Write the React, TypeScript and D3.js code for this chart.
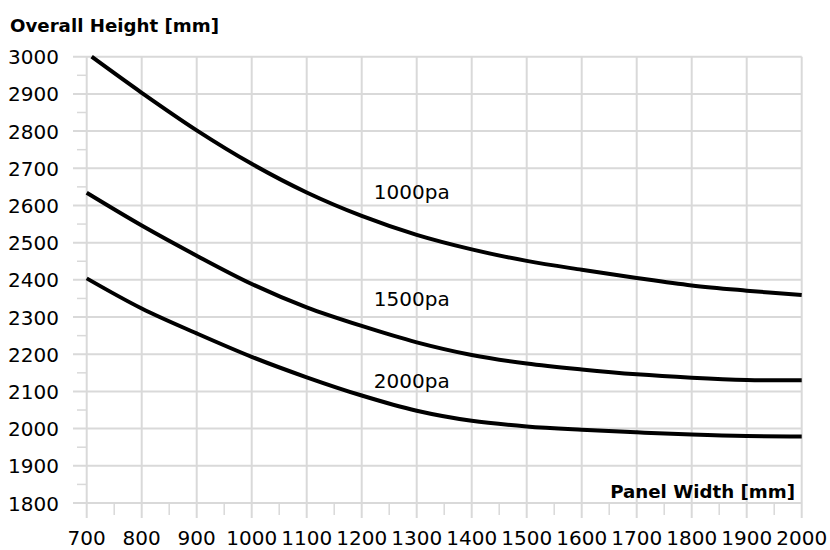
import React from "react";
import * as d3 from "d3";

const xTicks = [700, 800, 900, 1000, 1100, 1200, 1300, 1400, 1500, 1600, 1700, 1800, 1900, 2000];
const yTicks = [1800, 1900, 2000, 2100, 2200, 2300, 2400, 2500, 2600, 2700, 2800, 2900, 3000];

const x1000 = [709, 800, 900, 1000, 1100, 1200, 1300, 1400, 1500, 1600, 1700, 1800, 1900, 2000];
const y1000 = [3000, 2903, 2802, 2712, 2635, 2572, 2521, 2482, 2451, 2427, 2405, 2385, 2371, 2359];
const x1500 = [700, 800, 900, 1000, 1100, 1200, 1300, 1400, 1500, 1600, 1700, 1800, 1900, 2000];
const y1500 = [2634, 2546, 2465, 2389, 2326, 2276, 2232, 2198, 2175, 2159, 2146, 2137, 2131, 2130];
const x2000 = [700, 800, 900, 1000, 1100, 1200, 1300, 1400, 1500, 1600, 1700, 1800, 1900, 2000];
const y2000 = [2404, 2323, 2256, 2193, 2138, 2089, 2048, 2021, 2006, 1997, 1990, 1984, 1980, 1979];

const seriesNames = ["1000pa", "1500pa", "2000pa"];
const seriesX = [x1000, x1500, x2000];
const seriesY = [y1000, y1500, y2000];
const labelAt = [[1222, 2618], [1222, 2331], [1222, 2110]];

const title = "Overall Height [mm]";
const xTitle = "Panel Width [mm]";

export default function App() {
  const W = 830, H = 550;
  const x = d3.scaleLinear().domain([700, 2000]).range([86.7, 801.7]);
  const y = d3.scaleLinear().domain([1800, 3000]).range([503, 56.7]);
  const font = "'DejaVu Sans', Verdana, sans-serif";
  const grid = "#d9d9d9";
  const minorX = d3.range(750, 2000, 100);
  const minorY = d3.range(1850, 3000, 100);
  const line = d3
    .line<[number, number]>()
    .x((d) => x(d[0]))
    .y((d) => y(d[1]))
    .curve(d3.curveCatmullRom.alpha(0.5));

  return (
    <svg
      width={W}
      height={H}
      style={{ position: "absolute", left: 0, top: 0, background: "#fff" }}
      fontFamily={font}
    >
      <rect width={W} height={H} fill="#fff" />
      {xTicks.map((t) => (
        <line key={"vx" + t} x1={x(t)} x2={x(t)} y1={y(3000)} y2={518} stroke={grid} strokeWidth={2} />
      ))}
      {yTicks.map((t) => (
        <line key={"hy" + t} x1={73} x2={x(2000)} y1={y(t)} y2={y(t)} stroke={grid} strokeWidth={2} />
      ))}
      {minorX.map((t) => (
        <line key={"mx" + t} x1={x(t)} x2={x(t)} y1={y(1800)} y2={515} stroke={grid} strokeWidth={1.5} />
      ))}
      {minorY.map((t) => (
        <line key={"my" + t} x1={77} x2={x(700)} y1={y(t)} y2={y(t)} stroke={grid} strokeWidth={1.5} />
      ))}
      {seriesNames.map((n, i) => (
        <path
          key={n}
          d={line(seriesX[i].map((v, j) => [v, seriesY[i][j]] as [number, number])) || ""}
          fill="none"
          stroke="#000"
          strokeWidth={4}
          strokeLinecap="butt"
        />
      ))}
      {seriesNames.map((n, i) => (
        <text key={"l" + n} x={x(labelAt[i][0])} y={y(labelAt[i][1])} fontSize={20} fill="#000">
          {n}
        </text>
      ))}
      {yTicks.map((t) => (
        <text key={"ty" + t} x={59} y={y(t) + 7.5} textAnchor="end" fontSize={20} fill="#000">
          {t}
        </text>
      ))}
      {xTicks.map((t) => (
        <text key={"tx" + t} x={x(t)} y={545} textAnchor="middle" fontSize={20} fill="#000">
          {t}
        </text>
      ))}
      <text x={10} y={32} fontSize={18.2} fontWeight="bold" fill="#000">
        {title}
      </text>
      <text x={795} y={498} textAnchor="end" fontSize={18.2} fontWeight="bold" fill="#000">
        {xTitle}
      </text>
    </svg>
  );
}
